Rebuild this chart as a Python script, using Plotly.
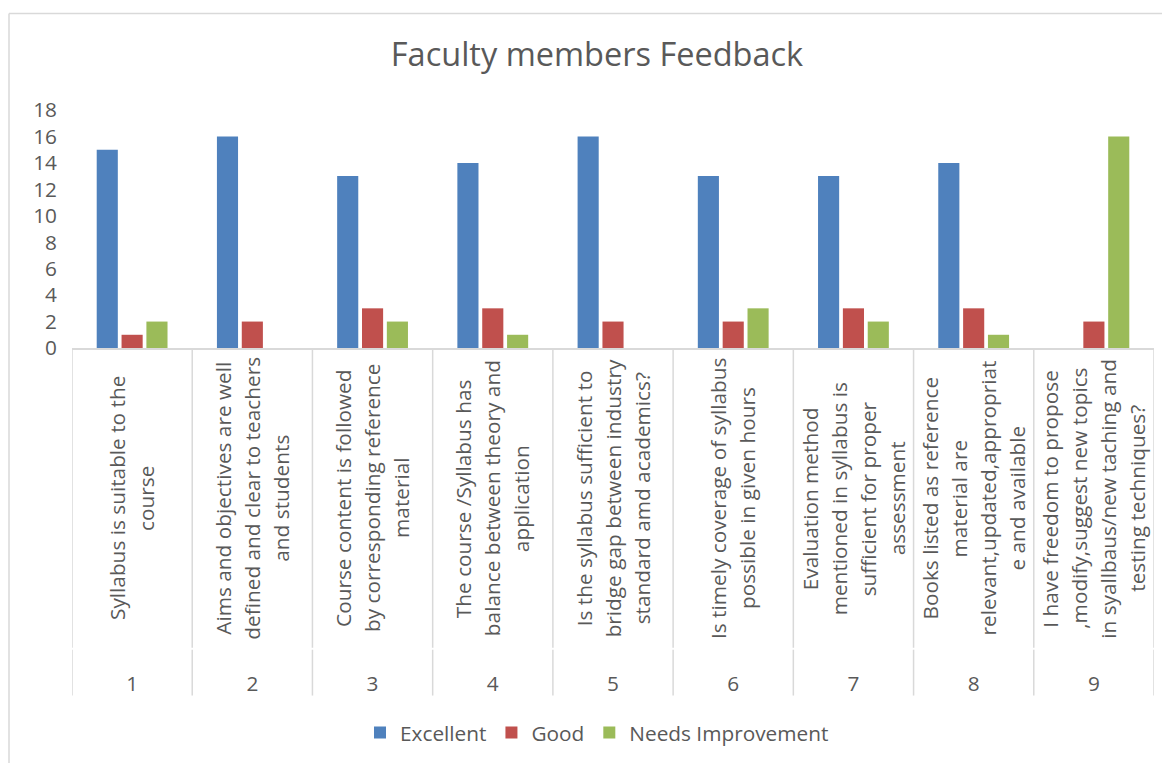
import plotly.graph_objects as go

questions = ["1", "2", "3", "4", "5", "6", "7", "8", "9"]

question_text = [
    ["Syllabus is suitable to the", "course"],
    ["Aims and objectives are well", "defined and clear to teachers", "and students"],
    ["Course content is followed", "by corresponding reference", "material"],
    ["The course /Syllabus has", "balance between theory and", "application"],
    ["Is the syllabus sufficient to", "bridge gap between industry", "standard amd academics?"],
    ["Is timely coverage of syllabus", "possible in given hours"],
    ["Evaluation method", "mentioned in syllabus is", "sufficient for proper", "assessment"],
    ["Books listed as reference", "material are", "relevant,updated,appropriat", "e and available"],
    ["I have freedom to propose", ",modify,suggest new topics", "in syallbaus/new taching and", "testing techniques?"],
]

excellent = [15, 16, 13, 14, 16, 13, 13, 14, 0]
good = [1, 2, 3, 3, 2, 2, 3, 3, 2]
needs_improvement = [2, 0, 2, 1, 0, 3, 2, 1, 16]

FONT = "Open Sans"
TEXT = "#595959"
GRID = "#d9d9d9"
FS = 20.8

# page body adds an 8px margin, so work in screen pixels minus 8
OFF = 8
W, H = 1170 - OFF, 763 - OFF
L, R, T, B = 72 - OFF, 1170 - 1154, 110 - OFF, 763 - 349
plot_h = H - T - B


def py(px):
    # screen pixel row -> paper y
    return (H - B - (px - OFF)) / plot_h


def pxx(px):
    return (px - OFF - L) / (W - L - R)


fig = go.Figure()
fig.add_trace(go.Bar(x=questions, y=excellent, name="Excellent", marker_color="#4f81bd"))
fig.add_trace(go.Bar(x=questions, y=good, name="Good", marker_color="#c0504d"))
fig.add_trace(go.Bar(x=questions, y=needs_improvement, name="Needs Improvement", marker_color="#9bbb59"))
fig.update_traces(marker_line_width=0)

# rotated question labels under the axis
line_gap = 29
for k, lines in enumerate(question_text):
    n = len(lines)
    for i, line in enumerate(lines):
        fig.add_annotation(
            x=k, xref="x", y=py(500), yref="paper",
            text=line, textangle=-90, showarrow=False,
            xshift=(i - (n - 1) / 2) * line_gap,
            xanchor="center", yanchor="middle",
            font=dict(family=FONT, size=FS, color=TEXT),
        )

# category separators
for k in range(len(questions) + 1):
    xv = k - 0.5
    fig.add_shape(type="line", xref="x", yref="paper", x0=xv, x1=xv,
                  y0=py(349), y1=py(650), line=dict(color=GRID, width=1.5))
    fig.add_shape(type="line", xref="x", yref="paper", x0=xv, x1=xv,
                  y0=py(652), y1=py(698), line=dict(color=GRID, width=1.5))

# chart border (top and left visible)
fig.add_shape(type="line", xref="paper", yref="paper", x0=pxx(9), x1=pxx(1200),
              y0=py(13), y1=py(13), line=dict(color=GRID, width=1.5))
fig.add_shape(type="line", xref="paper", yref="paper", x0=pxx(9), x1=pxx(9),
              y0=py(13), y1=py(800), line=dict(color=GRID, width=1.5))

fig.update_layout(
    width=W, height=H,
    margin=dict(l=L, r=R, t=T, b=B),
    paper_bgcolor="white", plot_bgcolor="white",
    barmode="group", bargap=0.38, bargroupgap=0.15,
    title=dict(text="Faculty members Feedback", x=(597 - OFF) / W, xref="container",
               y=1 - (55 - OFF) / H, yref="container", xanchor="center", yanchor="middle",
               font=dict(family=FONT, size=32.5, color=TEXT)),
    font=dict(family=FONT, size=FS, color=TEXT),
    showlegend=True,
    legend=dict(orientation="h", x=pxx(597), y=py(733), xanchor="center", yanchor="middle",
                font=dict(family=FONT, size=FS, color=TEXT), itemwidth=30),
)

fig.update_xaxes(
    type="category", range=[-0.5, 8.5], showgrid=False,
    showline=True, linecolor=GRID, linewidth=1.5,
    ticks="", ticklabelstandoff=316,
    tickfont=dict(family=FONT, size=FS, color=TEXT),
)
fig.update_yaxes(
    range=[0, 18], dtick=2, showgrid=False, zeroline=False, showline=False,
    ticks="", ticklabelstandoff=14,
    tickfont=dict(family=FONT, size=FS, color=TEXT),
)

fig.write_html("out.html")
